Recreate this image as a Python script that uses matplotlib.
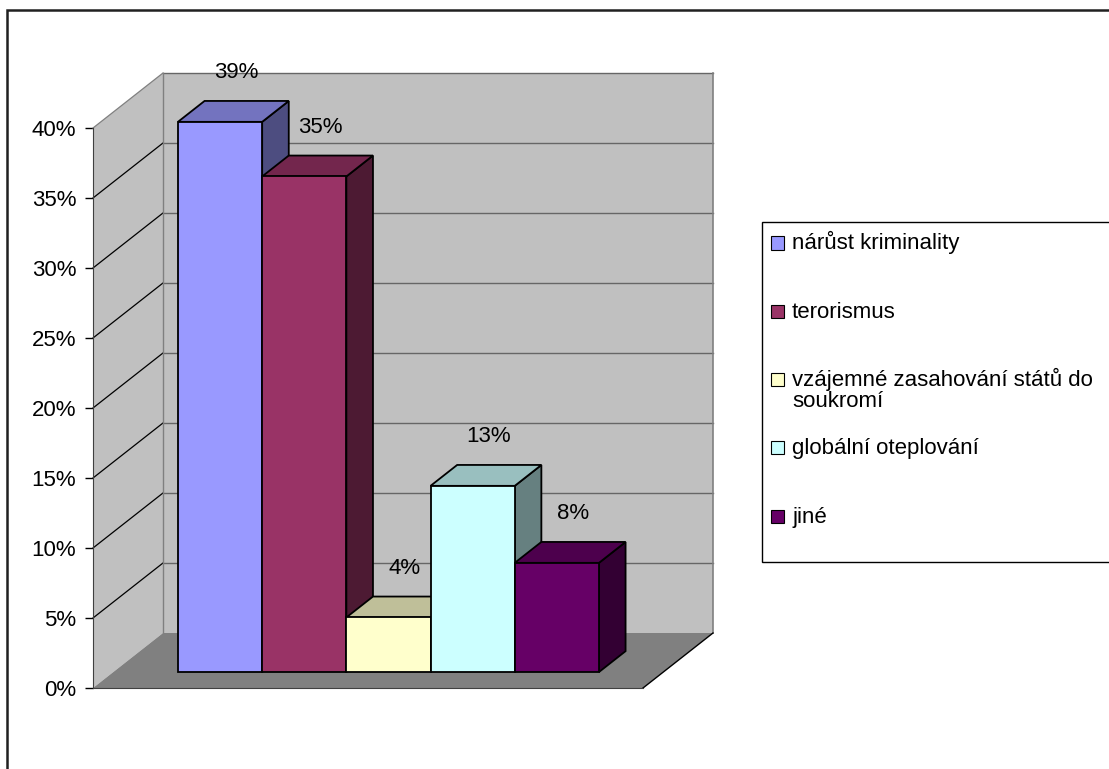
import numpy as np
import matplotlib.pyplot as plt
from matplotlib.patches import Polygon, Rectangle
from matplotlib.colors import to_rgb

categories = ["nárůst kriminality", "terorismus",
              "vzájemné zasahování států do\nsoukromí",
              "globální oteplování", "jiné"]
values = [39.3, 35.4, 3.9, 13.3, 7.8]
value_labels = ["39%", "35%", "4%", "13%", "8%"]
colors = ["#9999FF", "#993366", "#FFFFCC", "#CCFFFF", "#660066"]
yticks = [0, 5, 10, 15, 20, 25, 30, 35, 40]

plt.rcParams["font.family"] = ["Liberation Sans", "DejaVu Sans"]
FS = 16

W, H = 1109, 769
fig = plt.figure(figsize=(W / 100, H / 100), dpi=100)

# front plane of the 3d box, in pixels
left_px, right_px, bottom_px, top_px = 93, 643, 688, 128
bar_px = 84.2
ax = fig.add_axes([left_px / W, 1 - bottom_px / H,
                   (right_px - left_px) / W, (bottom_px - top_px) / H])
XL = -0.768
XR = XL + (right_px - left_px) / bar_px
ax.set_xlim(XL, XR)
ax.set_ylim(0, 40)

# depth offset of the back wall (data units)
DX = 70 / bar_px
DY = 55 / 14
D0, D1 = 0.29, 0.67  # depth range occupied by the bars


def shade(c, f):
    r, g, b = to_rgb(c)
    return (r * f, g * f, b * f)


# walls and floor
side = Polygon([(XL, 0), (XL, 40), (XL + DX, 40 + DY), (XL + DX, DY)],
               closed=True, fc="#C0C0C0", ec="none", zorder=1, clip_on=False)
back = Polygon([(XL + DX, DY), (XL + DX, 40 + DY), (XR + DX, 40 + DY), (XR + DX, DY)],
               closed=True, fc="#C0C0C0", ec="none", zorder=1, clip_on=False)
floor = Polygon([(XL, 0), (XR, 0), (XR + DX, DY), (XL + DX, DY)],
                closed=True, fc="#808080", ec="none", zorder=2, clip_on=False)
for p in (side, back, floor):
    ax.add_patch(p)

for t in yticks[1:]:
    ax.plot([XL + DX, XR + DX], [t + DY, t + DY], color="#666666", lw=1,
            zorder=3, clip_on=False)
    ax.plot([XL, XL + DX], [t, t + DY], color="black" if t < 40 else "#808080",
            lw=0.9, zorder=3, clip_on=False)
ax.plot([XL + DX, XL + DX], [DY, 40 + DY], color="#808080", lw=1, zorder=3, clip_on=False)
ax.plot([XR + DX, XR + DX], [DY, 40 + DY], color="#808080", lw=1.2, zorder=3, clip_on=False)
ax.plot([XR, XR + DX], [0, DY], color="black", lw=1, zorder=3, clip_on=False)

# bars
x = np.arange(len(values))
for i, v in enumerate(values):
    c = colors[i]
    z = 10 + i * 3
    xs = x[i] + 1 + D0 * DX
    sidep = Polygon([(xs, D0 * DY), (xs, v + D0 * DY),
                     (x[i] + 1 + D1 * DX, v + D1 * DY), (x[i] + 1 + D1 * DX, D1 * DY)],
                    closed=True, fc=shade(c, 0.5), ec="black", lw=1.3, zorder=z,
                    clip_on=False)
    top = Polygon([(x[i] + D0 * DX, v + D0 * DY), (x[i] + 1 + D0 * DX, v + D0 * DY),
                   (x[i] + 1 + D1 * DX, v + D1 * DY), (x[i] + D1 * DX, v + D1 * DY)],
                  closed=True, fc=shade(c, 0.75), ec="black", lw=1.3, zorder=z + 1,
                  clip_on=False)
    ax.add_patch(sidep)
    ax.add_patch(top)
    ax.bar(x[i] + D0 * DX, v, width=1, bottom=D0 * DY, align="edge",
           color=c, edgecolor="black", linewidth=1.3, zorder=z + 2, clip_on=False)
    ax.text(x[i] + 0.5 + D0 * DX + 0.19, v + D1 * DY + 2.0, value_labels[i],
            ha="center", va="center", fontsize=FS, zorder=40, clip_on=False)

# axes
ax.set_yticks(yticks)
ax.set_yticklabels([f"{t}%" for t in yticks], fontsize=FS)
ax.set_xticks([])
ax.tick_params(axis="y", length=6, width=1, color="black", pad=6)
for s in ("top", "right"):
    ax.spines[s].set_visible(False)
ax.spines["left"].set_color("#404040")
ax.spines["bottom"].set_color("#404040")
ax.spines["left"].set_zorder(5)
ax.spines["bottom"].set_zorder(5)
ax.patch.set_visible(False)

# legend box
fig.patches.append(Rectangle((762 / W, 1 - 562 / H), (1120 - 762) / W, (562 - 222) / H,
                             transform=fig.transFigure, fc="white", ec="black", lw=1))
row0, step = 243, 68.3
line_px = 20.5
for i, name in enumerate(categories):
    yc = row0 + i * step
    fig.patches.append(Rectangle((771 / W, 1 - (yc + 6.5) / H), 13 / W, 13 / H,
                                 transform=fig.transFigure, fc=colors[i], ec="black",
                                 lw=0.8))
    nlines = name.count("\n")
    fig.text(792 / W, 1 - (yc + 6.5 + nlines * line_px) / H, name, fontsize=FS,
             ha="left", va="baseline", linespacing=1.0)

# outer chart border
fig.patches.append(Rectangle((7 / W, -0.1), 1.2, 1.1 - 10 / H, transform=fig.transFigure,
                             fill=False, ec="#202020", lw=1.8))

fig.savefig("out.png", dpi=100)
